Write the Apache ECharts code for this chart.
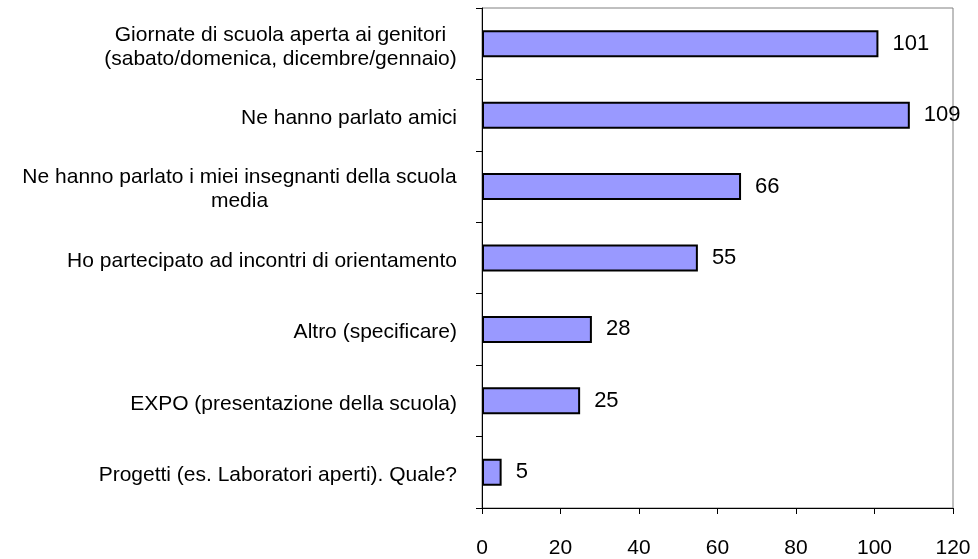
<!DOCTYPE html>
<html>
<head>
<meta charset="utf-8">
<style>
  html, body { margin: 0; padding: 0; background: #fff; }
  #chart { width: 978px; height: 559px; }
</style>
<script src="https://cdn.jsdelivr.net/npm/echarts@6/dist/echarts.min.js"></script>
</head>
<body>
<div id="chart"></div>
<script>
const categories = [
  'Giornate di scuola aperta ai genitori\n(sabato/domenica, dicembre/gennaio)',
  'Ne hanno parlato amici',
  'Ne hanno parlato i miei insegnanti della scuola\nmedia',
  'Ho partecipato ad incontri di orientamento',
  'Altro (specificare)',
  'EXPO (presentazione della scuola)',
  'Progetti (es. Laboratori aperti). Quale?'
]
const counts = [101, 109, 66, 55, 28, 25, 5]

const fontFamily = 'Arial, "Liberation Sans", sans-serif'
const catSize = 21

// multi-line labels are centred inside their own block, like the original
const ctx = document.createElement('canvas').getContext('2d')
ctx.font = catSize + 'px ' + fontFamily
const rich = {}
categories.forEach((c, i) => {
  const lines = c.split('\n')
  if (lines.length > 1) {
    const w = Math.max(...lines.map(l => ctx.measureText(l).width))
    rich['c' + i] = { width: Math.ceil(w), align: 'center', fontSize: catSize, lineHeight: 24, color: '#000' }
  }
})

const chart = echarts.init(document.getElementById('chart'))
chart.setOption({
  animation: false,
  textStyle: { fontFamily },
  grid: {
    left: 482, right: 25, top: 8, bottom: 50,
    show: true, borderColor: '#808080', borderWidth: 1
  },
  xAxis: {
    type: 'value',
    min: 0, max: 120, interval: 20,
    splitLine: { show: false },
    axisLine: { show: true, lineStyle: { color: '#000', width: 1 } },
    axisTick: { show: true, length: 6, lineStyle: { color: '#000' } },
    axisLabel: { color: '#000', fontSize: 21, margin: 30 }
  },
  yAxis: {
    type: 'category',
    inverse: true,
    data: categories,
    axisLine: { show: true, lineStyle: { color: '#000', width: 1 } },
    axisTick: { show: true, length: 6, lineStyle: { color: '#000' } },
    axisLabel: {
      color: '#000', fontSize: catSize, lineHeight: 24, margin: 25,
      padding: [6, 0, 0, 0],
      formatter: function (value, idx) {
        const lines = value.split('\n')
        if (lines.length === 1) return value
        return lines.map(l => '{c' + idx + '|' + l + '}').join('\n')
      },
      rich
    }
  },
  series: [{
    type: 'bar',
    data: counts,
    barWidth: 27,
    itemStyle: { color: '#9999FF', borderColor: '#000', borderWidth: 2 },
    label: {
      show: true, position: 'right', distance: 14,
      padding: [6, 0, 0, 0],
      color: '#000', fontSize: 22
    }
  }]
})
</script>
</body>
</html>
